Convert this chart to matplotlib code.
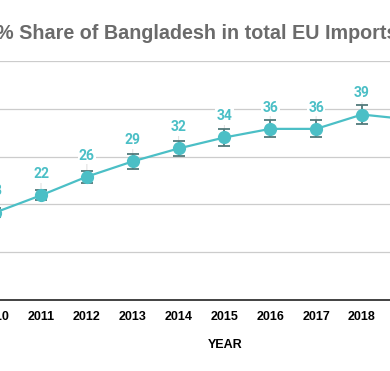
import matplotlib
matplotlib.use("Agg")
import matplotlib.pyplot as plt

years = [2010, 2011, 2012, 2013, 2014, 2015, 2016, 2017, 2018, 2019]
share = [18.3, 21.9, 25.8, 29.0, 31.7, 34.0, 35.8, 35.8, 38.8, 37.8]
err = [0.9, 1.05, 1.25, 1.5, 1.55, 1.7, 1.8, 1.8, 1.9, 1.8]
yticks = [0, 10, 20, 30, 40, 50]

TEAL = "#4bbfc6"
ERR = "#52797b"
W, H = 390, 371

fig = plt.figure(figsize=(W / 100, H / 100), dpi=100)

# axes run past both figure edges, the picture is a crop
ax_l, ax_r = -39, 429
ax_t, ax_b = 61, 300
ax = fig.add_axes([ax_l / W, 1 - ax_b / H, (ax_r - ax_l) / W, (ax_b - ax_t) / H])
px_per_year = (362 - 41) / 7
ax.set_xlim(2011 - (41 - ax_l) / px_per_year, 2018 + (ax_r - 362) / px_per_year)
ax.set_ylim(0, 50)

ax.errorbar(years, share, yerr=err, fmt="none", ecolor=ERR, elinewidth=1.3,
            capsize=4.5, capthick=1.3, zorder=2)
ax.plot(years, share, color=TEAL, linewidth=1.6, marker="o", markersize=8.5,
        zorder=3)

for x, y in zip(years, share):
    ax.annotate(f"{y:.0f}", xy=(x, y), xytext=(0, 12.3),
                textcoords="offset points", ha="center", va="baseline",
                fontsize=10, color=TEAL, family="Roboto", fontweight="bold",
                bbox=dict(boxstyle="square,pad=0.1", fc="white", ec="none"),
                arrowprops=dict(arrowstyle="-", color="#e2e2e2", lw=0.8,
                                shrinkA=0, shrinkB=0),
                zorder=1.9)

ax.set_yticks(yticks)
ax.grid(axis="y", color="#cccccc", linewidth=0.9)
ax.set_axisbelow(True)
for s in ["top", "left", "right"]:
    ax.spines[s].set_visible(False)
ax.spines["bottom"].set_color("#333333")
ax.spines["bottom"].set_linewidth(1.3)
ax.set_xticks(years)
ax.set_xticklabels([str(y) for y in years], fontsize=9, fontweight="bold",
                   family="Liberation Sans")
ax.tick_params(axis="x", length=0, pad=8)
ax.tick_params(axis="y", length=0, labelleft=False)

fig.text(225 / W, 1 - 344.5 / H, "YEAR", ha="center", va="center",
         fontsize=9, fontweight="bold", family="Liberation Sans")
fig.text(-4 / W, 1 - 39 / H, "% Share of Bangladesh in total EU Imports",
         ha="left", va="baseline", fontsize=14.2, fontweight="bold",
         color="#6b6b6b", family="Liberation Sans")

fig.savefig("out.png", dpi=100)
